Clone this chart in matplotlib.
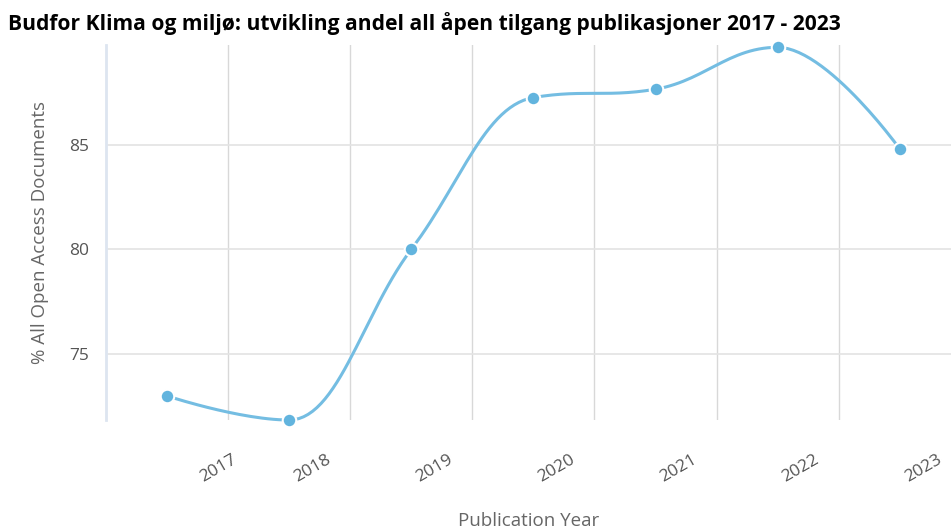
import numpy as np
import matplotlib.pyplot as plt

years = ["2017", "2018", "2019", "2020", "2021", "2022", "2023"]
oa_share = [73.0, 71.85, 80.0, 87.25, 87.65, 89.65, 84.8]
y_ticks = [75, 80, 85]

plt.rcParams['font.family'] = ['Open Sans', 'DejaVu Sans']


def spline_path(pts, smoothing=1.5, n=30):
    # bezier spline that avoids false extremes (highcharts style), pixel space
    pts = np.asarray(pts, float)
    m = len(pts)
    left = pts.copy()
    right = pts.copy()
    den = smoothing + 1
    for i in range(1, m - 1):
        lx, ly = pts[i - 1]
        px, py = pts[i]
        nx, ny = pts[i + 1]
        lcx = (smoothing * px + lx) / den
        lcy = (smoothing * py + ly) / den
        rcx = (smoothing * px + nx) / den
        rcy = (smoothing * py + ny) / den
        corr = 0.0
        if rcx != lcx:
            corr = (rcy - lcy) * (rcx - px) / (rcx - lcx) + py - rcy
        lcy += corr
        rcy += corr
        if lcy > ly and lcy > py:
            lcy = max(ly, py)
            rcy = 2 * py - lcy
        elif lcy < ly and lcy < py:
            lcy = min(ly, py)
            rcy = 2 * py - lcy
        if rcy > ny and rcy > py:
            rcy = max(ny, py)
            lcy = 2 * py - rcy
        elif rcy < ny and rcy < py:
            rcy = min(ny, py)
            lcy = 2 * py - rcy
        left[i] = (lcx, lcy)
        right[i] = (rcx, rcy)
    t = np.linspace(0, 1, n)[:, None]
    out = []
    for i in range(m - 1):
        a, c1, c2, b = pts[i], right[i], left[i + 1], pts[i + 1]
        out.append((1 - t) ** 3 * a + 3 * (1 - t) ** 2 * t * c1
                   + 3 * (1 - t) * t ** 2 * c2 + t ** 3 * b)
    return np.vstack(out)


fig = plt.figure(figsize=(9.51, 5.32), dpi=100)
ax = fig.add_axes([0.1115, 0.2105, 0.8885, 0.7045])
ax.set_xlim(-0.5, 6.42)
ax.set_ylim(71.85, 89.75)

x = np.arange(len(years))
disp = ax.transData.transform(np.column_stack([x, oa_share]))
curve = ax.transData.inverted().transform(spline_path(disp))
ax.plot(curve[:, 0], curve[:, 1], color='#74bde2', lw=2.2, zorder=3, clip_on=False)
ax.scatter(x, oa_share, s=95, color='#62b4de', edgecolor='white', linewidth=1.5,
           zorder=4, clip_on=False)

ax.set_yticks(y_ticks)
ax.set_yticklabels([str(v) for v in y_ticks], fontsize=12.5, color='#555555')
ax.tick_params(axis='y', length=0, pad=12)

label_pos = [0.53, 1.3, 2.3, 3.3, 4.3, 5.3, 6.3]
ax.set_xticks(label_pos)
ax.set_xticklabels(years, rotation=30, ha='right', rotation_mode='anchor',
                   fontsize=12.5, color='#555555')
ax.tick_params(axis='x', length=0, pad=23)

for g in np.arange(0.5, 6, 1.0):
    ax.axvline(g, color='#d8d8d8', lw=1, zorder=1)
for v in y_ticks:
    ax.axhline(v, color='#e3e3e3', lw=1.2, zorder=1)

for s in ['top', 'right', 'bottom']:
    ax.spines[s].set_visible(False)
ax.spines['left'].set_color('#dde5f0')
ax.spines['left'].set_linewidth(2)

ax.set_ylabel("% All Open Access Documents", fontsize=13.5, color='#666666', labelpad=15)
ax.set_xlabel("Publication Year", fontsize=13.5, color='#666666', labelpad=19)

fig.text(0.008, 0.955, "Budfor Klima og miljø: utvikling andel all åpen tilgang publikasjoner 2017 - 2023",
         fontsize=15.1, fontweight='bold', color='#000000', va='center')

fig.savefig("out.png", dpi=100)
